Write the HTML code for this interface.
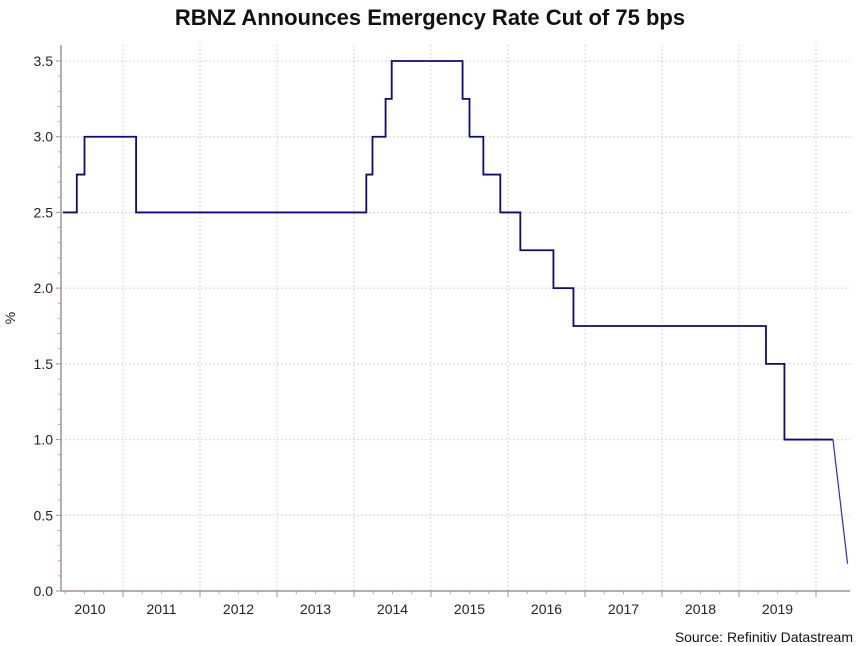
<!DOCTYPE html>
<html><head><meta charset="utf-8"><style>
html,body{margin:0;padding:0;background:#fff;}
svg{display:block;font-family:"Liberation Sans",Arial,sans-serif;}
</style></head><body>
<svg id="chart" width="859" height="646">
<text x="430" y="25" text-anchor="middle" font-size="22" font-weight="bold" fill="#111">RBNZ Announces Emergency Rate Cut of 75 bps</text>
<text transform="translate(15,318) rotate(-90)" text-anchor="middle" font-size="14" fill="#222">%</text>
<text x="853" y="642" text-anchor="end" font-size="14" fill="#111">Source: Refinitiv Datastream</text>
<g id="grid"></g><g id="axes"></g><g id="series"></g>
</svg>
<script>
const changeDates=[2010.22,2010.40,2010.50,2011.17,2014.16,2014.24,2014.41,2014.49,2015.41,2015.50,2015.68,2015.90,2016.16,2016.59,2016.85,2019.35,2019.59];
const rates=[2.5,2.75,3.0,2.5,2.75,3.0,3.25,3.5,3.25,3.0,2.75,2.5,2.25,2.0,1.75,1.5,1.0];
const lastHoldDate=2020.22;
const finalDate=2020.41;
const finalRate=0.18;
const yTicks=[0,0.5,1,1.5,2,2.5,3,3.5];
const yTickLabels=["0.0","0.5","1.0","1.5","2.0","2.5","3.0","3.5"];
const years=[2010,2011,2012,2013,2014,2015,2016,2017,2018,2019];

const NS="http://www.w3.org/2000/svg";
const X0=61,X1=850,Y0=591,Y1=45;
const xs=d=>123+(d-2011)*77;
const ys=v=>591-v*(591-61)/3.5;
function mk(tag,attrs,parent,text){const e=document.createElementNS(NS,tag);for(const k in attrs)e.setAttribute(k,attrs[k]);if(text!==undefined)e.textContent=text;document.getElementById(parent).appendChild(e);return e;}

yTicks.forEach((v,i)=>{
  if(v>0){const g=mk('line',{x1:X0,x2:X1,y1:ys(v),y2:ys(v),stroke:'#c8c8c8','stroke-dasharray':'1.5,2.5'},'grid');
  
  }
  const t=mk('text',{x:X0-8,y:ys(v)+5,'text-anchor':'end','font-size':'14',fill:'#222'},'axes',yTickLabels[i]);
  
  
  mk('line',{x1:X0-5,x2:X0,y1:ys(v),y2:ys(v),stroke:'#a090a0'},'axes');
});
for(let k=1;k<=35;k++){const v=k/10;mk('line',{x1:X0-3,x2:X0,y1:ys(v),y2:ys(v),stroke:'#b8a8b8'},'axes');}
years.forEach(yr=>{
  const xb=xs(yr+1);
  if(xb<X1){const g=mk('line',{x1:xb,x2:xb,y1:Y1,y2:Y0,stroke:'#c8c8c8','stroke-dasharray':'1.5,2.5'},'grid');
  
  
  mk('line',{x1:xb,x2:xb,y1:Y0,y2:Y0+6,stroke:'#a090a0'},'axes');}
  for(let q=0.25;q<1;q+=0.25){const xq=xs(yr+q);if(xq>X0&&xq<X1)mk('line',{x1:xq,x2:xq,y1:Y0,y2:Y0+3,stroke:'#b8a8b8'},'axes');}
  const t=mk('text',{x:Math.max(xs(yr+0.5),90),y:Y0+23,'text-anchor':'middle','font-size':'14',fill:'#222'},'axes',String(yr));
  
  
});
const ya=mk('line',{x1:X0,x2:X0,y1:Y1,y2:Y0,stroke:'#a090a0','stroke-width':1.5},'axes');


const xa=mk('line',{x1:X0,x2:X1,y1:Y0,y2:Y0,stroke:'#a090a0','stroke-width':1.5},'axes');



let d='';
changeDates.forEach((dt,i)=>{
  const next=i<changeDates.length-1?changeDates[i+1]:lastHoldDate;
  d+=(i===0?'M':'L')+xs(dt)+','+ys(rates[i])+'L'+xs(next)+','+ys(rates[i]);
});
const p=mk('path',{d:d,fill:'none',stroke:'#0a0a78','stroke-width':1.8},'series');


const f=mk('line',{x1:xs(lastHoldDate),y1:ys(rates[rates.length-1]),x2:xs(finalDate),y2:ys(finalRate),stroke:'#2a2ad0','stroke-width':1.2},'series');


</script>
</body></html>
